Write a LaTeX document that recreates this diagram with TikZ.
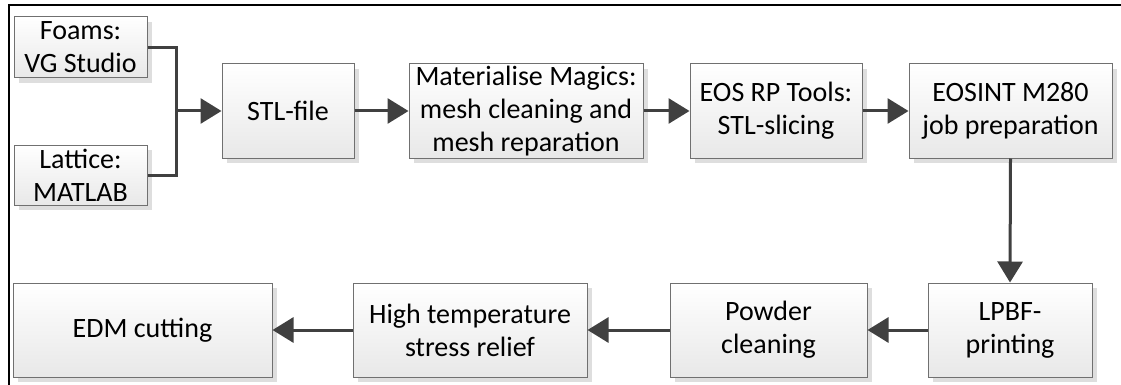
\documentclass[tikz,border=0pt]{standalone}
\usepackage{fontspec}
\setmainfont{Carlito}
\usetikzlibrary{arrows.meta,shadows}
\definecolor{linegray}{HTML}{404040}
\definecolor{bordergray}{HTML}{707070}
\tikzset{
  box/.style={draw=bordergray, line width=1pt, top color=white, bottom color=black!9,
    drop shadow={shadow xshift=5pt, shadow yshift=-5pt, fill=black!13, opacity=1},
    align=center, inner sep=2pt, font=\fontsize{28}{33}\selectfont},
  conn/.style={draw=linegray, line width=3pt, line join=miter},
  arr/.style={conn, -{Triangle[length=21pt,width=25pt]}}
}
\begin{document}
\begin{tikzpicture}[x=1pt,y=-1pt]
\useasboundingbox (0,0) rectangle (1121,385);
\draw[line width=2pt] (9,385) -- (9,5) -- (1121,5);
\node[box, minimum width=133pt, minimum height=61pt] (foams) at (80.5,47.5) {Foams:\\VG Studio};
\node[box, minimum width=133pt, minimum height=60pt] (lattice) at (80.5,175) {Lattice:\\MATLAB};
\node[box, minimum width=132pt, minimum height=94pt] (stl) at (288,111) {STL-file};
\node[box, minimum width=234pt, minimum height=94pt] (material) at (526,111) {Materialise Magics:\\mesh cleaning and\\mesh reparation};
\node[box, minimum width=172pt, minimum height=94pt] (eos) at (776,111) {EOS RP Tools:\\STL-slicing};
\node[box, minimum width=203pt, minimum height=94pt] (eosint) at (1010.5,111) {EOSINT M280\\job preparation};
\node[box, minimum width=164pt, minimum height=94pt] (lpbf) at (1010,330) {LPBF-\\printing};
\node[box, minimum width=197pt, minimum height=94pt] (powder) at (768.5,330) {Powder\\cleaning};
\node[box, minimum width=234pt, minimum height=94pt] (hightemp) at (470,330) {High temperature\\stress relief};
\node[box, minimum width=259pt, minimum height=94pt] (edm) at (142.5,330) {EDM cutting};
\coordinate (j) at (176,111);
\draw[conn] (foams.east) -| (j);
\draw[conn] (lattice.east) -| (j);
\draw[arr] (j) -- (stl.west);
\draw[arr] (stl.east) -- (material.west);
\draw[arr] (material.east) -- (eos.west);
\draw[arr] (eos.east) -- (eosint.west);
\draw[arr] (eosint.south) -- (lpbf.north);
\draw[arr] (lpbf.west) -- (powder.east);
\draw[arr] (powder.west) -- (hightemp.east);
\draw[arr] (hightemp.west) -- (edm.east);
\end{tikzpicture}
\end{document}
